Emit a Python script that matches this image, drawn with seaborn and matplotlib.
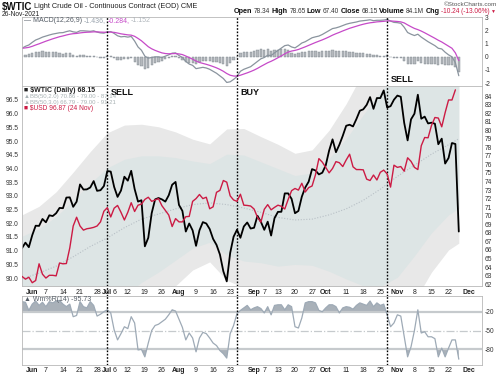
import numpy as np
import pandas as pd
import matplotlib
matplotlib.use("Agg")
import matplotlib.pyplot as plt
import matplotlib.transforms as mtransforms
import seaborn as sns

# trading calendar: weekdays minus the US market holidays
start_day, end_day = "2021-05-26", "2021-12-10"
holidays = ["2021-05-31", "2021-07-05", "2021-09-06", "2021-11-25"]

# $WTIC daily closes, 26 May - 26 Nov 2021
wtic = [66.21, 66.85, 66.32,
        67.72, 68.83, 68.81, 69.62,
        69.23, 70.05, 69.96, 70.29, 70.91,
        70.88, 72.12, 72.15, 71.04, 71.64,
        73.66, 73.06, 73.08, 73.30, 74.05,
        72.91, 72.98, 73.47,
        75.23, 75.16,
        73.37, 72.20, 72.94, 74.56,
        74.10, 75.25, 73.13, 71.65, 71.81,
        66.42, 67.42, 70.30, 71.91, 72.07,
        71.91, 71.65, 72.39, 73.62, 73.95,
        71.26, 70.56, 68.15, 69.09, 68.28,
        66.48, 68.29, 69.25, 69.09, 68.44,
        67.29, 66.59, 65.46, 63.50, 62.32,
        65.64, 67.54, 68.36, 67.42, 68.74,
        69.21, 68.50,
        68.59, 69.99, 69.29,
        68.35, 69.30, 67.68, 69.72,
        70.45, 70.46, 72.61, 72.61, 71.97,
        70.29, 70.56, 72.23, 73.30, 73.98,
        75.45, 75.29, 74.83, 75.03,
        75.88,
        77.62, 78.93, 77.43, 78.30, 79.35,
        80.52, 80.64, 80.44, 81.31, 82.28,
        82.44, 82.96, 83.87, 82.50, 83.76,
        83.76, 84.65, 82.66, 82.81, 83.57,
        84.05, 83.91, 80.86, 78.81, 81.27,
        81.93, 84.15, 81.34, 81.59, 80.79,
        80.88, 80.76, 78.36, 79.01, 76.10,
        76.75, 78.50, 78.39, 68.15]

# $USD daily closes, 26 May - 24 Nov 2021
usd = [90.06, 89.96, 90.03,
       89.83, 89.91, 90.52, 90.14,
       90.00, 90.10, 90.10, 90.08, 90.55,
       90.52, 90.53, 91.10, 91.90, 92.22,
       91.90, 91.75, 91.80, 91.82, 91.85,
       91.90, 92.05, 92.44,
       92.57, 92.23,
       92.55, 92.65, 92.40, 92.12,
       92.40, 92.75, 92.43, 92.66, 92.70,
       92.87, 92.95, 92.80, 92.85, 92.90,
       92.64, 92.47, 92.30, 91.88, 92.17,
       92.05, 92.05, 92.24, 92.25, 92.80,
       92.90, 93.05, 92.90, 92.95, 92.53,
       92.60, 93.13, 93.20, 93.56, 93.50,
       93.00, 92.85, 92.80, 93.06, 92.66,
       92.65, 92.63,
       92.52, 92.22, 92.04,
       92.51, 92.68, 92.49, 92.58,
       92.66, 92.62, 92.52, 92.87, 93.19,
       93.27, 93.21, 93.46, 93.14, 93.30,
       93.36, 93.77, 94.36, 94.23,
       94.04,
       93.84, 94.00, 94.25, 94.21, 94.07,
       94.31, 94.52, 94.06, 93.96, 93.96,
       93.95, 93.61, 93.56, 93.76, 93.58,
       93.86, 93.94, 93.80, 93.32, 94.12,
       94.04, 94.07, 93.90, 94.39, 94.26,
       94.04, 93.96, 94.83, 95.13, 95.12,
       95.57, 95.86, 95.84, 95.52, 96.04,
       96.50, 96.50, 96.87]

# MACD(12,26,9) line and signal
macd_line = [0.65, 0.80, 0.90, 1.10, 1.28, 1.38, 1.50, 1.58, 1.66, 1.73,
             1.78, 1.83, 1.84, 1.92, 1.98, 1.90, 1.86, 1.98, 1.98, 1.96,
             1.94, 1.98, 1.88, 1.82, 1.80, 1.90, 1.92, 1.78, 1.60, 1.52,
             1.55, 1.50, 1.55, 1.20, 0.75, 0.50, 0.05, -0.10, -0.05, 0.00,
             0.00, -0.05, 0.05, 0.15, 0.28, 0.30, 0.10, -0.05, -0.35, -0.55,
             -0.65, -0.90, -0.85, -0.80, -0.85, -0.95, -1.10, -1.25, -1.45, -1.65,
             -1.95, -1.90, -1.72, -1.50, -1.10, -0.95, -0.85, -0.75, -0.55, -0.35,
             -0.15, -0.05, 0.12, 0.10, 0.30, 0.48, 0.65, 0.85, 0.90, 0.75,
             0.68, 0.85, 1.05, 1.15, 1.30, 1.45, 1.52, 1.58, 1.70, 1.85,
             2.00, 2.15, 2.20, 2.28, 2.38, 2.48, 2.55, 2.60, 2.65, 2.72,
             2.75, 2.78, 2.82, 2.75, 2.78, 2.78, 2.80, 2.85, 2.72, 2.62,
             2.60, 2.55, 2.25, 1.85, 1.72, 1.62, 1.72, 1.50, 1.32, 1.15,
             1.00, 0.85, 0.65, 0.60, 0.35, 0.15, 0.00, -0.45, -1.436]
macd_signal = [0.65, 0.68, 0.72, 0.80, 0.90, 0.99, 1.09, 1.19, 1.28, 1.37,
               1.45, 1.53, 1.59, 1.66, 1.72, 1.76, 1.78, 1.82, 1.85, 1.87,
               1.88, 1.90, 1.90, 1.88, 1.87, 1.87, 1.88, 1.86, 1.81, 1.75,
               1.71, 1.67, 1.65, 1.56, 1.40, 1.22, 0.99, 0.77, 0.61, 0.49,
               0.39, 0.30, 0.25, 0.23, 0.24, 0.25, 0.22, 0.17, 0.06, -0.06,
               -0.18, -0.32, -0.43, -0.50, -0.57, -0.65, -0.74, -0.84, -0.96, -1.10,
               -1.27, -1.40, -1.46, -1.47, -1.40, -1.31, -1.22, -1.12, -1.01, -0.88,
               -0.73, -0.59, -0.45, -0.34, -0.21, -0.07, 0.07, 0.23, 0.36, 0.44,
               0.49, 0.56, 0.66, 0.76, 0.87, 0.98, 1.09, 1.19, 1.29, 1.40,
               1.52, 1.65, 1.76, 1.86, 1.97, 2.07, 2.17, 2.25, 2.33, 2.41,
               2.48, 2.54, 2.59, 2.62, 2.66, 2.68, 2.70, 2.73, 2.73, 2.71,
               2.69, 2.66, 2.58, 2.43, 2.29, 2.16, 2.07, 1.96, 1.83, 1.69,
               1.55, 1.41, 1.26, 1.13, 0.97, 0.81, 0.65, 0.30, -0.284]

# Williams %R(14), bottom panel
willr = [-4, -5, -18, -8, -3, -10, -5, -12, -4, -6,
         -3, -2, -8, -12, -8, -28, -26, -4, -12, -14,
         -4, -10, -27, -24, -20, -17, -22, -49, -65, -55,
         -44, -47, -28, -38, -81, -80, -92, -70, -50, -42,
         -40, -36, -32, -25, -17, -19, -32, -45, -65, -54,
         -62, -84, -62, -53, -55, -62, -70, -74, -82, -87,
         -94, -55, -42, -23, -18, -14, -10, -17, -14, -12,
         -15, -22, -12, -25, -10, -9, -9, -17, -9, -12,
         -44, -46, -30, -6, -4, -4, -6, -18, -20, -14,
         -9, -9, -12, -22, -14, -12, -13, -16, -10, -6,
         -8, -10, -3, -12, -6, -10, -8, -25, -44, -38,
         -25, -27, -60, -92, -76, -50, -17, -54, -52, -60,
         -60, -63, -92, -78, -92, -78, -65, -65, -95.73]

# Bollinger(50) middle line and standard deviation, weekly readings
band_dates = ["2021-05-26", "2021-06-03", "2021-06-10", "2021-06-17", "2021-06-24",
              "2021-07-01", "2021-07-09", "2021-07-16", "2021-07-23", "2021-07-30",
              "2021-08-06", "2021-08-13", "2021-08-20", "2021-08-27", "2021-09-03",
              "2021-09-13", "2021-09-20", "2021-09-27", "2021-10-04", "2021-10-11",
              "2021-10-18", "2021-10-25", "2021-11-01", "2021-11-08", "2021-11-15",
              "2021-11-22", "2021-11-26"]
band_mid = [62.6, 63.3, 64.1, 65.2, 66.4, 67.4, 68.6, 69.6, 70.2, 70.8,
            71.3, 71.5, 71.3, 70.9, 70.4, 69.8, 69.5, 69.6, 70.1, 70.8,
            71.8, 73.1, 74.6, 75.9, 77.2, 78.3, 79.0]
band_sd = [2.5, 2.6, 2.9, 3.3, 3.7, 4.1, 4.0, 3.7, 3.4, 3.0,
           2.55, 2.3, 2.95, 3.1, 2.95, 2.85, 2.6, 2.7, 3.3, 4.1,
           5.0, 5.7, 5.9, 5.3, 4.6, 4.1, 4.07]

signal_dates = ["2021-07-01", "2021-08-25", "2021-10-27"]
signal_names = ["SELL", "BUY", "SELL"]

tick_dates = ["2021-06-01", "2021-06-07", "2021-06-14", "2021-06-21", "2021-06-28",
              "2021-07-01", "2021-07-06", "2021-07-12", "2021-07-19", "2021-07-26",
              "2021-08-02", "2021-08-09", "2021-08-16", "2021-08-23",
              "2021-09-01", "2021-09-07", "2021-09-13", "2021-09-20", "2021-09-27",
              "2021-10-01", "2021-10-11", "2021-10-18", "2021-10-25",
              "2021-11-01", "2021-11-08", "2021-11-15", "2021-11-22", "2021-12-01"]
tick_labels = ["Jun", "7", "14", "21", "28", "Jul", "6", "12", "19", "26",
               "Aug", "9", "16", "23", "Sep", "7", "13", "20", "27",
               "Oct", "11", "18", "25", "Nov", "8", "15", "22", "Dec"]
month_names = {"Jun", "Jul", "Aug", "Sep", "Oct", "Nov", "Dec"}

usd_ticks = [90.0, 90.5, 91.0, 91.5, 92.0, 92.5, 93.0, 93.5, 94.0, 94.5, 95.0, 95.5, 96.0, 96.5]
wtic_ticks = list(range(62, 85))
macd_ticks = [3, 2, 1, 0, -1, -2]
willr_ticks = [-20, -50, -80]

# ---------------------------------------------------------------
sns.set_style("white")
plt.rcParams["font.family"] = ["Liberation Sans", "DejaVu Sans"]

cal = pd.bdate_range(start_day, end_day)
cal = cal[~cal.isin(pd.to_datetime(holidays))]
day_pos = pd.Series(np.arange(len(cal), dtype=float), index=cal)


def xpos(dates):
    return day_pos[pd.to_datetime(dates)].values


price = pd.DataFrame({"x": np.arange(len(wtic)), "wtic": wtic, "macd": macd_line,
                      "signal": macd_signal, "willr": willr})
price["hist"] = price["macd"] - price["signal"]
dollar = pd.DataFrame({"x": np.arange(len(usd)), "usd": usd})

W, H = 500, 374
fig = plt.figure(figsize=(W / 100, H / 100), dpi=100)


def px_axes(left, top, right, bottom):
    return fig.add_axes([left / W, 1 - bottom / H, (right - left) / W, (bottom - top) / H])


ax_macd = px_axes(21.5, 17, 482, 86)
ax_main = px_axes(21.5, 86, 482, 286)
ax_wr = px_axes(21.5, 296, 482, 365)
x_lo, x_hi = -0.15, 134.8

# ---- MACD panel
ax_macd.bar(price["x"], price["hist"], width=0.65, color="#b4b8bc", edgecolor="#7c848c", linewidth=0.3)
sns.lineplot(data=price, x="x", y="macd", ax=ax_macd, color="#8a949e", lw=0.9, estimator=None)
sns.lineplot(data=price, x="x", y="signal", ax=ax_macd, color="#c64ac8", lw=0.9, estimator=None)
ax_macd.set_ylim(-2.22, 3.03)
ax_macd.yaxis.tick_right()
ax_macd.set_yticks(macd_ticks)
ax_macd.set_yticklabels([str(t) for t in macd_ticks])
ax_macd.set_xticks([])

# ---- price panel (WTIC on the right scale, USD on the left scale)
bx = xpos(band_dates)
mid = np.array(band_mid)
sd = np.array(band_sd)
ax_main.fill_between(bx, mid - 3 * sd, mid + 3 * sd, color="#e8e8e8", lw=0)
ax_main.fill_between(bx, mid - 2 * sd, mid + 2 * sd, color="#dde5e5", lw=0)
ax_main.plot(bx, mid, color="#b8c0c6", lw=0.8, ls=(0, (1, 1.5)))
sns.lineplot(data=price, x="x", y="wtic", ax=ax_main, color="black", lw=1.3, estimator=None)

ax_usd = ax_main.twinx()
sns.lineplot(data=dollar, x="x", y="usd", ax=ax_usd, color="#cc1b44", lw=1.0, estimator=None)

# twinx moves the host ticks to the left, so set both sides afterwards
ax_main.set_ylim(61.78, 85.17)
ax_main.yaxis.set_ticks_position("right")
ax_main.set_yticks(wtic_ticks)
ax_main.set_yticklabels([str(t) for t in wtic_ticks])
ax_usd.set_ylim(89.71, 97.01)
ax_usd.yaxis.set_ticks_position("left")
ax_usd.set_yticks(usd_ticks)
ax_usd.set_yticklabels([f"{t:.1f}" for t in usd_ticks])
for sp in ax_usd.spines.values():
    sp.set_visible(False)

# ---- Williams %R panel
wx = price["x"].values
wr = price["willr"].values
ax_wr.fill_between(wx, wr, -20, where=wr > -20, interpolate=True, color="#a9b1b9", lw=0)
ax_wr.fill_between(wx, wr, -80, where=wr < -80, interpolate=True, color="#a9b1b9", lw=0)
ax_wr.axhline(-20, color="#c6cacd", lw=1.6)
ax_wr.axhline(-80, color="#c6cacd", lw=1.6)
ax_wr.axhline(-50, color="#c6cacd", lw=0.9, ls="-.")
sns.lineplot(data=price, x="x", y="willr", ax=ax_wr, color="#9eaab6", lw=0.9, estimator=None)
ax_wr.set_ylim(-105, 5)
ax_wr.yaxis.tick_right()
ax_wr.set_yticks(willr_ticks)
ax_wr.set_yticklabels([str(t) for t in willr_ticks])

# ---- shared styling
for ax in (ax_macd, ax_main, ax_usd, ax_wr):
    ax.set_xlim(x_lo, x_hi)
    ax.set(xlabel="", ylabel="")
    ax.tick_params(length=0, labelsize=4.8, colors="#333333", pad=1.8)
for ax in (ax_macd, ax_main, ax_wr):
    ax.set_facecolor("white")
    for sp in ax.spines.values():
        sp.set_color("#b8b8b8")
        sp.set_linewidth(0.6)

for ax in (ax_main, ax_wr):
    ax.set_xticks(xpos(tick_dates))
    ax.set_xticklabels(tick_labels)
    for lab in ax.get_xticklabels():
        lab.set_fontsize(5)
        lab.set_color("#222222")
        if lab.get_text() in month_names:
            lab.set_fontweight("bold")
ax_main.tick_params(axis="x", pad=2.5)
ax_wr.tick_params(axis="x", pad=1.5)

# ---- signal lines and labels
sig_x = xpos(signal_dates)
for ax in (ax_macd, ax_wr):
    for sx in sig_x:
        ax.axvline(sx, color="black", lw=1.0, ls=(0, (1.2, 1.2)))
for sx in sig_x:
    ax_main.axvline(sx, ymin=-0.05, ymax=1, color="black", lw=1.0, ls=(0, (1.2, 1.2)), clip_on=False)

tr_main = mtransforms.blended_transform_factory(ax_main.transData, ax_main.transAxes)
tr_macd = mtransforms.blended_transform_factory(ax_macd.transData, ax_macd.transAxes)
for k, (sx, name) in enumerate(zip(sig_x, signal_names)):
    if k < 2:
        ax_main.text(sx + 1.0, 0.965, name, transform=tr_main, fontsize=6.5, fontweight="bold",
                     va="center", ha="left", color="#111111")
    else:
        ax_macd.text(sx + 1.2, 0.1, name, transform=tr_macd, fontsize=6.5, fontweight="bold",
                     va="center", ha="left", color="#111111")

# ---- header and legends
renderer = fig.canvas.get_renderer()


def text_run(x, y, parts, gap=1.6, right=None):
    items = []
    for s, color, weight, size in parts:
        t = fig.text(x / W, 1 - y / H, s, color=color, fontweight=weight, fontsize=size,
                     va="center", ha="left")
        items.append((t, t.get_window_extent(renderer).width))
    if right is not None:
        x = right - sum(w for _, w in items) - gap * (len(items) - 1)
    for t, w in items:
        t.set_x(x / W)
        x += w + gap
    return x


text_run(2, 7, [("$WTIC", "#111111", "bold", 7),
                ("Light Crude Oil - Continuous Contract (EOD) CME", "#222222", "normal", 5.3)])
fig.text(2 / W, 1 - 14.5 / H, "26-Nov-2021", fontsize=4.8, color="#222222", va="center")
fig.text(497 / W, 1 - 4.3 / H, "\u00a9StockCharts.com", fontsize=4.6, color="#555555",
         va="center", ha="right")
text_run(0, 11.8, [("Open", "#111111", "bold", 5.2), ("78.34", "#333333", "normal", 4.7),
                   ("High", "#111111", "bold", 5.2), ("78.65", "#333333", "normal", 4.7),
                   ("Low", "#111111", "bold", 5.2), ("67.40", "#333333", "normal", 4.7),
                   ("Close", "#111111", "bold", 5.2), ("68.15", "#333333", "normal", 4.7),
                   ("Volume", "#111111", "bold", 5.2), ("84.1M", "#333333", "normal", 4.7),
                   ("Chg", "#111111", "bold", 5.2), ("-10.24 (-13.06%)", "#cc1b44", "normal", 4.7),
                   ("\u25bc", "#cc1b44", "normal", 3.6)], gap=1.4, right=496)

text_run(24, 20.5, [("\u2014 MACD(12,26,9)", "#555d66", "normal", 5),
                    ("-1.436,", "#9aa4ae", "normal", 5),
                    ("-0.284,", "#c64ac8", "normal", 5),
                    ("-1.152", "#b0b6bc", "normal", 5)])

text_run(24, 90.5, [("\u25a0 $WTIC (Daily) 68.15", "#222222", "bold", 5)])
text_run(24, 96.5, [("\u25b2BB(50,2.0) 70.86 - 79.00 - 87.14", "#a8b2b4", "normal", 4.3)])
text_run(24, 102.5, [("\u25b2BB(50,3.0) 66.79 - 79.00 - 91.21", "#a8b2b4", "normal", 4.3)])
text_run(24, 108.5, [("\u25a0 $USD 96.87 (24 Nov)", "#cc1b44", "normal", 4.8)])

text_run(24, 299.5, [("\u25b2 Wm%R(14) -95.73", "#555d66", "normal", 5)])

fig.savefig("out.png", dpi=100, facecolor="white")
